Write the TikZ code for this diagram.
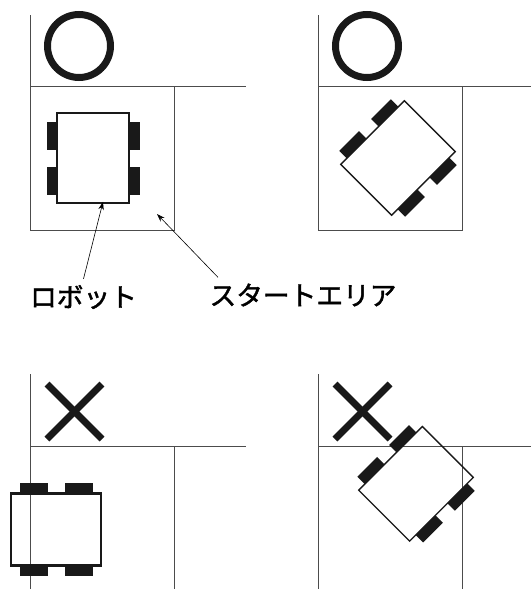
\documentclass[tikz,border=0pt]{standalone}
\usepackage{fontspec}
\setmainfont{Noto Sans CJK JP}
\newfontfamily\captionfont[FakeBold=1.6]{Noto Sans CJK JP}
\usetikzlibrary{arrows.meta}

\tikzset{
  wall/.style={line width=0.9pt,black!70},
  okmark/.style={line width=7pt,black!90},
  ngmark/.style={line width=7pt,black!90},
  callout/.style={line width=0.6pt,-{Stealth[length=8pt,width=5.5pt]}},
  caption/.style={inner sep=0pt,font=\captionfont\fontsize{26.7}{30}\selectfont},
  robotbody/.style={draw=black!90,minimum width=72pt,minimum height=90pt,inner sep=0pt},
  pics/robot/.style={code={
    \node[robotbody,transform shape] (-body) {};
    \fill[black!90] (-46.5,-36.5) rectangle (-36,-8.5);
    \fill[black!90] (-46.5,8.5) rectangle (-36,36.5);
    \fill[black!90] (36,-36.5) rectangle (46.5,-8.5);
    \fill[black!90] (36,8.5) rectangle (46.5,36.5);
  }}
}

\begin{document}
\begin{tikzpicture}[x=1pt,y=-1pt]
    \useasboundingbox (0,0) rectangle (531,589);

    % Good start, straight
    \draw[wall] (30,15) -- (30,230) -- (174,230) -- (174,86.5);
    \draw[wall] (30,86.5) -- (246,86.5);
    \draw[okmark] (79,46) circle (31.5pt);
    \pic (robotstraight) [line width=1.8pt] at (93,158) {robot};

    % Good start, turned
    \draw[wall] (318,15) -- (318,230) -- (462,230) -- (462,86.5);
    \draw[wall] (318,86.5) -- (531,86.5);
    \draw[okmark] (367,46) circle (31.5pt);
    \pic (robotturned) [line width=1.3pt,rotate=-45] at (398,158) {robot};

    % Labels
    \node[caption] (robotlabel) at (83.5,297) {ロボット};
    \node[caption] (arealabel) at (303,295) {スタートエリア};
    \coordinate (areatip) at (157,214);
    \draw[callout] ([yshift=6pt]robotlabel.north) -- ([xshift=10pt,yshift=2pt]robotstraight-body.south);
    \draw[callout] ([xshift=-85pt,yshift=6pt]arealabel.north) -- (areatip);

    % Bad start, sticking out
    \draw[wall] (30,374) -- (30,589);
    \draw[wall] (174,446.5) -- (174,589);
    \draw[wall] (30,446.5) -- (246,446.5);
    \draw[ngmark] (47,384) -- (102,439);
    \draw[ngmark] (102,384) -- (47,439);
    \pic (robotout) [line width=2.2pt,rotate=90] at (56,529.5) {robot};

    % Bad start, over the line
    \draw[wall] (318,374) -- (318,589);
    \draw[wall] (462,446.5) -- (462,589);
    \draw[wall] (318,446.5) -- (531,446.5);
    \draw[ngmark] (335,384) -- (390,439);
    \draw[ngmark] (390,384) -- (335,439);
    \pic (robotover) [line width=1.3pt,rotate=-45] at (416,483.8) {robot};
\end{tikzpicture}
\end{document}
